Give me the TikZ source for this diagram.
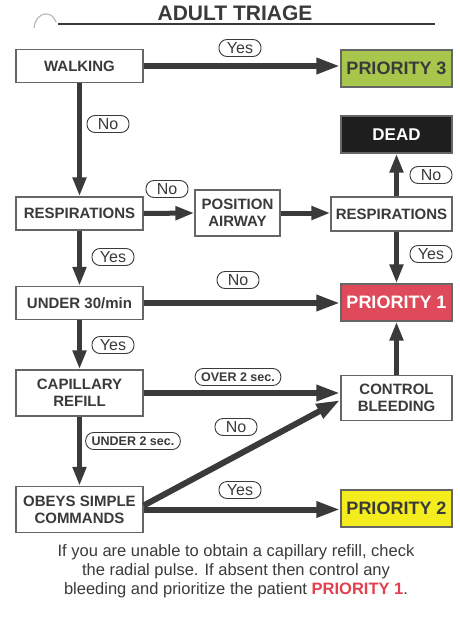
\documentclass[tikz,border=0pt]{standalone}
\usepackage{fontspec}
\setmainfont{Liberation Sans}
\usetikzlibrary{arrows.meta}

\definecolor{inkgray}{HTML}{3A3A3A}
\definecolor{boxline}{HTML}{666666}
\definecolor{prioGreen}{HTML}{A8C64C}
\definecolor{prioRed}{HTML}{DE4A5A}
\definecolor{prioYellow}{HTML}{F4EC1C}
\definecolor{deadBlack}{HTML}{1E1E1E}

\tikzset{
  box/.style={draw=boxline, line width=1.3pt, fill=white, text=inkgray,
    font=\bfseries\fontsize{15}{17}\selectfont, align=center, inner sep=0pt},
  leftbox/.style={box, minimum width=127pt, minimum height=33pt},
  prio/.style={box, minimum width=111pt, minimum height=37pt,
    font=\bfseries\fontsize{18}{20}\selectfont},
  pill/.style={draw=inkgray, line width=0.9pt, rounded corners=8pt, fill=white,
    text=inkgray, font=\fontsize{16}{16}\selectfont, inner xsep=6pt,
    inner ysep=1pt, minimum width=42pt, minimum height=17pt},
  pillbold/.style={pill, font=\bfseries\fontsize{12.5}{13}\selectfont, minimum height=17pt},
  flow/.style={draw=inkgray, line width=5pt, -{Triangle[length=19pt,width=13pt]}},
  longflow/.style={draw=inkgray, line width=6pt, -{Triangle[length=24pt,width=15pt]}}
}

\begin{document}
\begin{tikzpicture}[x=1pt,y=-1pt]
\useasboundingbox (0,0) rectangle (459,621);

% title
\draw[gray!55, line width=1.2pt] (34,28) to[out=85,in=180] (46,14) to[out=0,in=110] (56,22);
\draw[inkgray, line width=2.5pt] (58,24) -- (435,24);
\node[text=inkgray, font=\bfseries\fontsize{21}{21}\selectfont, fill=white, inner sep=1pt] (title) at (235,13) {ADULT TRIAGE};

% left column
\node[leftbox] (walk) at (79.5,66) {WALKING};
\node[leftbox] (resp) at (79.5,213.5) {RESPIRATIONS};
\node[leftbox] (under) at (79.5,303) {UNDER 30/min};
\node[leftbox, minimum height=46pt] (cap) at (79.5,393) {CAPILLARY\\REFILL};
\node[leftbox, minimum height=46pt] (obeys) at (79.5,509.5) {OBEYS SIMPLE\\COMMANDS};

% middle
\node[box, minimum width=85pt, minimum height=46pt] (airway) at (237.5,213) {POSITION\\AIRWAY};

% right column
\node[prio, fill=prioGreen] (p3) at (396.5,68.5) {PRIORITY 3};
\node[prio, fill=deadBlack, text=white, font=\bfseries\fontsize{17}{19}\selectfont] (dead) at (396.5,134.5) {DEAD};
\node[box, minimum width=121pt, minimum height=34pt] (resp2) at (391.5,214) {RESPIRATIONS};
\node[prio, fill=prioRed, text=white] (p1) at (396.5,302.5) {PRIORITY 1};
\node[box, minimum width=111pt, minimum height=45pt] (ctrl) at (396.5,398) {CONTROL\\BLEEDING};
\node[prio, fill=prioYellow] (p2) at (396.5,508.5) {PRIORITY 2};

% connectors
\draw[longflow] (walk.east) -- (walk.east -| p3.west);
\draw[flow] (walk.south) -- (resp.north);
\draw[flow] (resp.east) -- (airway.west);
\draw[flow] (airway.east) -- (airway.east -| resp2.west);
\draw[flow] (resp2.north -| dead.south) -- (dead.south);
\draw[flow] (resp2.south -| p1.north) -- (p1.north);
\draw[flow] (resp.south) -- (under.north);
\draw[longflow] (under.east) -- (under.east -| p1.west);
\draw[flow] (under.south) -- (cap.north);
\draw[longflow] (cap.east) -- (cap.east -| ctrl.west);
\draw[flow] (ctrl.north) -- (ctrl.north |- p1.south);
\draw[flow] (cap.south) -- (obeys.north);
\draw[longflow] ([yshift=4pt]obeys.east) -- ([yshift=-2pt]ctrl.west);
\draw[longflow] (obeys.east) -- (obeys.east -| p2.west);

% answers
\node[pill] (yesA) at (240,48) {Yes};
\node[pill] (noA) at (108,124) {No};
\node[pill] (noB) at (167,189) {No};
\node[pill] (noC) at (431,175) {No};
\node[pill] (yesB) at (113,257) {Yes};
\node[pill] (yesC) at (431,254) {Yes};
\node[pill] (noD) at (238,280) {No};
\node[pill] (yesD) at (113,345) {Yes};
\node[pillbold] (over) at (238,377) {OVER 2 sec.};
\node[pillbold] (under2) at (133,441) {UNDER 2 sec.};
\node[pill] (noE) at (236,427) {No};
\node[pill] (yesE) at (240,490) {Yes};

% note
\node[text=inkgray, align=center, font=\fontsize{16.5}{19}\selectfont] (note) at (236,571)
  {If you are unable to obtain a capillary refill, check\\
   the radial pulse. If absent then control any\\
   bleeding and prioritize the patient \textcolor{prioRed!85!red}{\bfseries PRIORITY 1}.};
\end{tikzpicture}
\end{document}
